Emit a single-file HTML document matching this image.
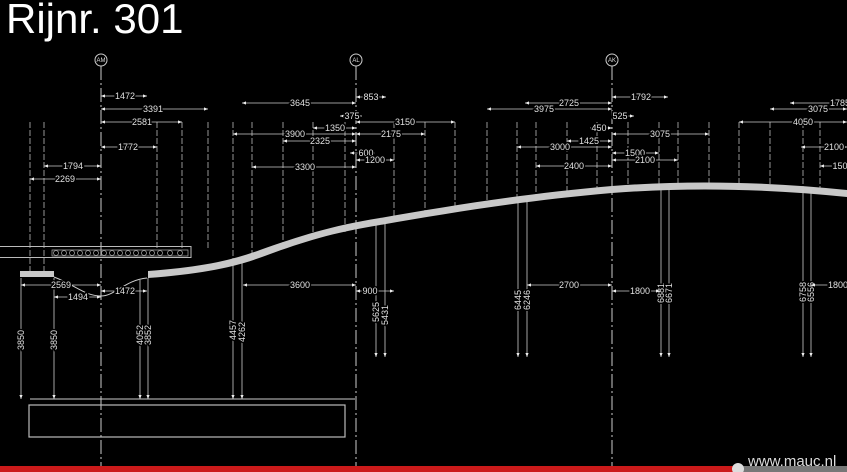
<!DOCTYPE html>
<html><head><meta charset="utf-8"><style>
html,body{margin:0;padding:0;background:#000;}
svg{display:block}
.t{font-family:"Liberation Sans",sans-serif;font-size:9px;fill:#e0e0e0;text-anchor:middle;paint-order:stroke;stroke:#000;stroke-width:3px}
.d line{stroke:#ccc;stroke-width:0.8;marker-start:url(#a);marker-end:url(#a)}
.e{stroke:#bbb;stroke-width:0.8;fill:none}
.ax{stroke:#ccc;stroke-width:1;stroke-dasharray:14,3,2,3;fill:none}
.v line{stroke:#ccc;stroke-width:0.8;marker-end:url(#a)}
</style></head><body>
<svg width="847" height="472" viewBox="0 0 847 472" xmlns="http://www.w3.org/2000/svg">
<defs><marker id="a" viewBox="0 0 10 10" refX="10" refY="5" markerUnits="userSpaceOnUse" markerWidth="6" markerHeight="4" orient="auto-start-reverse"><path d="M0,1L10,5L0,9z" fill="#eee"/></marker></defs>
<rect width="847" height="472" fill="#000"/>
<text x="6" y="33" font-family="Liberation Sans,sans-serif" font-size="42" fill="#fff">Rijnr. 301</text>
<g font-family="Liberation Sans,sans-serif" font-size="6" fill="#ddd" text-anchor="middle">
<circle cx="101" cy="60" r="6" stroke="#ccc" fill="none"/><text x="101" y="62">AM</text>
<circle cx="356" cy="60" r="6" stroke="#ccc" fill="none"/><text x="356" y="62">AL</text>
<circle cx="612" cy="60" r="6" stroke="#ccc" fill="none"/><text x="612" y="62">AK</text>
</g>
<path class="ax" d="M101,66V468M356,66V468M612,66V468"/>
<path class="e" stroke-dasharray="6,2" d="M30,122V272M44,122V272M157,122V250M182,122V250M208,122V250M233,122V262M252,122V255M283,122V245M313,122V238M345,122V232M394,122V222M425,122V216M455,122V212M487,122V207M517,122V200M536,122V198M567,122V194M597,122V191M628,122V189M659,122V188M678,122V187M709,122V186M739,122V186M770,122V186M803,122V188M820,122V190"/>
<path d="M148,271C200,267 230,261 260,250C300,236 330,226 380,218C450,206 520,194 612,186C690,180 770,182 847,190L847,197C770,189 690,187 612,193C520,201 450,213 380,225C330,233 300,243 262,257C232,268 200,274 148,278Z" fill="#c8c8c8"/>
<rect x="-1" y="246.5" width="192" height="11" fill="none" stroke="#bbb"/>
<g fill="none" stroke="#aaa" stroke-width="0.7">
<path d="M52,250h136v6h-136z"/>
<circle cx="56" cy="253" r="2.5"/><circle cx="64" cy="253" r="2.5"/><circle cx="72" cy="253" r="2.5"/><circle cx="80" cy="253" r="2.5"/><circle cx="88" cy="253" r="2.5"/><circle cx="96" cy="253" r="2.5"/><circle cx="104" cy="253" r="2.5"/><circle cx="112" cy="253" r="2.5"/><circle cx="120" cy="253" r="2.5"/><circle cx="128" cy="253" r="2.5"/><circle cx="136" cy="253" r="2.5"/><circle cx="144" cy="253" r="2.5"/><circle cx="152" cy="253" r="2.5"/><circle cx="160" cy="253" r="2.5"/><circle cx="170" cy="253" r="2.5"/><circle cx="180" cy="253" r="2.5"/>
</g>
<rect x="20" y="271" width="34" height="6" fill="#c8c8c8"/>
<path d="M54,277C75,285 85,296 101,296C115,296 125,280 147,278" stroke="#ccc" fill="none"/>
<path d="M30,399H355" stroke="#ccc"/>
<rect x="29" y="405" width="316" height="32" fill="none" stroke="#bbb" stroke-width="1.2"/>
<g class="v">
<line x1="21" y1="278" x2="21" y2="399"/><line x1="54" y1="278" x2="54" y2="399"/>
<line x1="140" y1="280" x2="140" y2="399"/><line x1="148" y1="278" x2="148" y2="399"/>
<line x1="233" y1="265" x2="233" y2="399"/><line x1="242" y1="262" x2="242" y2="399"/>
<line x1="376" y1="225" x2="376" y2="357"/><line x1="385" y1="222" x2="385" y2="357"/>
<line x1="518" y1="200" x2="518" y2="357"/><line x1="527" y1="199" x2="527" y2="357"/>
<line x1="661" y1="188" x2="661" y2="357"/><line x1="669" y1="188" x2="669" y2="357"/>
<line x1="803" y1="190" x2="803" y2="357"/><line x1="811" y1="190" x2="811" y2="357"/>
</g>
<g class="t">
<text transform="translate(24,340) rotate(-90)">3850</text>
<text transform="translate(57,340) rotate(-90)">3850</text>
<text transform="translate(143,335) rotate(-90)">4052</text>
<text transform="translate(151,335) rotate(-90)">3852</text>
<text transform="translate(236,330) rotate(-90)">4457</text>
<text transform="translate(245,332) rotate(-90)">4262</text>
<text transform="translate(379,312) rotate(-90)">5625</text>
<text transform="translate(388,315) rotate(-90)">5431</text>
<text transform="translate(521,300) rotate(-90)">6445</text>
<text transform="translate(530,300) rotate(-90)">6246</text>
<text transform="translate(664,293) rotate(-90)">6881</text>
<text transform="translate(672,293) rotate(-90)">6671</text>
<text transform="translate(806,292) rotate(-90)">6758</text>
<text transform="translate(814,292) rotate(-90)">6556</text>
</g>
<g class="d">
<line x1="101" y1="96" x2="147" y2="96"/><line x1="101" y1="109" x2="208" y2="109"/><line x1="101" y1="122" x2="182" y2="122"/><line x1="101" y1="147" x2="157" y2="147"/>
<line x1="44" y1="166" x2="101" y2="166"/><line x1="30" y1="179" x2="101" y2="179"/>
<line x1="242" y1="103" x2="356" y2="103"/><line x1="356" y1="97" x2="386" y2="97"/><line x1="340" y1="116" x2="362" y2="116"/><line x1="313" y1="128" x2="356" y2="128"/>
<line x1="356" y1="122" x2="455" y2="122"/><line x1="233" y1="134" x2="356" y2="134"/><line x1="356" y1="134" x2="425" y2="134"/><line x1="283" y1="141" x2="356" y2="141"/>
<line x1="350" y1="153" x2="375" y2="153"/><line x1="356" y1="160" x2="394" y2="160"/><line x1="252" y1="167" x2="356" y2="167"/>
<line x1="525" y1="103" x2="612" y2="103"/><line x1="487" y1="109" x2="612" y2="109"/><line x1="612" y1="97" x2="668" y2="97"/><line x1="612" y1="116" x2="634" y2="116"/>
<line x1="590" y1="128" x2="612" y2="128"/><line x1="612" y1="134" x2="709" y2="134"/><line x1="567" y1="141" x2="612" y2="141"/><line x1="517" y1="147" x2="612" y2="147"/>
<line x1="612" y1="153" x2="659" y2="153"/><line x1="612" y1="160" x2="678" y2="160"/><line x1="536" y1="166" x2="612" y2="166"/>
<line x1="770" y1="109" x2="847" y2="109"/><line x1="790" y1="103" x2="847" y2="103"/><line x1="739" y1="122" x2="847" y2="122"/><line x1="801" y1="147" x2="847" y2="147"/><line x1="820" y1="166" x2="847" y2="166"/>
<line x1="21" y1="285" x2="101" y2="285"/><line x1="54" y1="297" x2="101" y2="297"/><line x1="101" y1="291" x2="147" y2="291"/>
<line x1="243" y1="285" x2="356" y2="285"/><line x1="356" y1="291" x2="394" y2="291"/><line x1="527" y1="285" x2="612" y2="285"/><line x1="612" y1="291" x2="660" y2="291"/><line x1="811" y1="285" x2="847" y2="285"/>
</g>
<g class="t">
<text x="125" y="99">1472</text><text x="153" y="112">3391</text><text x="142" y="125">2581</text><text x="128" y="150">1772</text>
<text x="73" y="169">1794</text><text x="65" y="182">2269</text>
<text x="300" y="106">3645</text><text x="371" y="100">853</text><text x="352" y="119">375</text><text x="335" y="131">1350</text>
<text x="405" y="125">3150</text><text x="295" y="137">3900</text><text x="391" y="137">2175</text><text x="320" y="144">2325</text>
<text x="366" y="156">600</text><text x="375" y="163">1200</text><text x="305" y="170">3300</text>
<text x="569" y="106">2725</text><text x="544" y="112">3975</text><text x="641" y="100">1792</text><text x="620" y="119">525</text>
<text x="599" y="131">450</text><text x="660" y="137">3075</text><text x="589" y="144">1425</text><text x="560" y="150">3000</text>
<text x="635" y="156">1500</text><text x="645" y="163">2100</text><text x="574" y="169">2400</text>
<text x="818" y="112">3075</text><text x="840" y="106">1785</text><text x="803" y="125">4050</text><text x="834" y="150">2100</text><text x="840" y="169">150</text>
<text x="61" y="288">2569</text><text x="78" y="300">1494</text><text x="125" y="294">1472</text>
<text x="300" y="288">3600</text><text x="370" y="294">900</text><text x="569" y="288">2700</text><text x="640" y="294">1800</text><text x="838" y="288">1800</text>
</g>
<rect x="0" y="466" width="738" height="6" fill="#cc1a1a"/>
<rect x="738" y="466" width="109" height="6" fill="#777"/>
<circle cx="738" cy="469" r="6" fill="#ddd"/>
<text x="748" y="466" font-family="Liberation Sans,sans-serif" font-size="15" fill="#ddd">www.mauc.nl</text>
</svg>
</body></html>
